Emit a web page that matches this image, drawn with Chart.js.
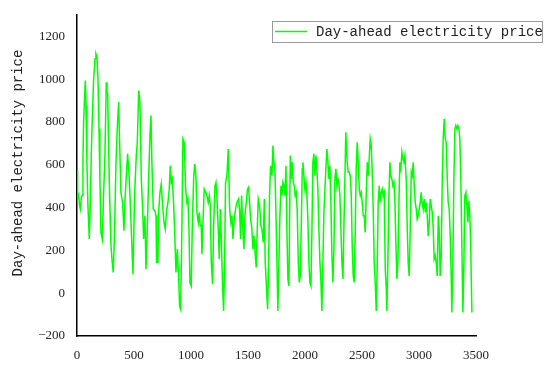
<!DOCTYPE html>
<html>
<head>
<meta charset="utf-8">
<script src="https://cdn.jsdelivr.net/npm/chart.js@4.4.1/dist/chart.umd.min.js"></script>
<style>
  html, body { margin: 0; padding: 0; background: #fff; }
</style>
</head>
<body>
<canvas id="myChart" width="550" height="367"></canvas>
<script>
// values
var seriesLabel = 'Day-ahead electricity price';
var yTitle = 'Day-ahead electricity price';
var xTicks = [0, 500, 1000, 1500, 2000, 2500, 3000, 3500];
var yTicks = [-200, 0, 200, 400, 600, 800, 1000, 1200];

var hours = [
  0, 5, 14, 23, 29, 38, 44, 52, 58, 67, 73, 79, 87, 96, 108, 117, 125, 134, 146, 158,
  166, 175, 184, 193, 201, 210, 222, 233, 245, 257, 263, 269, 277, 286, 298, 309, 318, 330, 342, 353,
  365, 377, 385, 400, 412, 423, 438, 444, 459, 476, 491, 505, 520, 529, 541, 552, 564, 576, 584, 596,
  605, 617, 628, 640, 649, 657, 669, 684, 693, 698, 710, 716, 728, 739, 751, 763, 774, 786, 798, 809,
  818, 827, 836, 847, 856, 868, 880, 891, 900, 909, 920, 929, 941, 953, 964, 973, 982, 991, 1002, 1011,
  1023, 1032, 1043, 1052, 1064, 1073, 1081, 1090, 1096, 1105, 1116, 1128, 1140, 1151, 1160, 1169, 1178, 1189, 1198, 1210,
  1219, 1227, 1239, 1248, 1257, 1265, 1277, 1286, 1295, 1303, 1315, 1327, 1339, 1350, 1359, 1368, 1379, 1391, 1403, 1417,
  1426, 1435, 1444, 1453, 1464, 1473, 1485, 1496, 1505, 1514, 1523, 1534, 1543, 1552, 1564, 1572, 1581, 1590, 1602, 1613,
  1622, 1634, 1643, 1651, 1663, 1672, 1681, 1689, 1698, 1710, 1719, 1727, 1736, 1745, 1754, 1762, 1771, 1780, 1789, 1798,
  1806, 1815, 1824, 1833, 1841, 1850, 1859, 1871, 1879, 1888, 1897, 1906, 1914, 1923, 1932, 1941, 1950, 1958, 1967, 1976,
  1982, 1990, 1999, 2008, 2017, 2026, 2034, 2043, 2052, 2061, 2069, 2078, 2087, 2096, 2104, 2113, 2122, 2131, 2140, 2148,
  2157, 2166, 2175, 2183, 2192, 2201, 2210, 2218, 2227, 2236, 2245, 2254, 2262, 2271, 2280, 2289, 2297, 2306, 2315, 2324,
  2333, 2341, 2350, 2358, 2370, 2379, 2388, 2397, 2406, 2414, 2423, 2432, 2441, 2449, 2458, 2467, 2476, 2485, 2493, 2502,
  2511, 2520, 2528, 2537, 2546, 2555, 2563, 2572, 2581, 2590, 2599, 2607, 2616, 2625, 2634, 2642, 2651, 2660, 2669, 2677,
  2686, 2695, 2704, 2713, 2718, 2727, 2736, 2745, 2753, 2762, 2771, 2780, 2789, 2797, 2806, 2815, 2824, 2832, 2841, 2850,
  2859, 2867, 2876, 2888, 2897, 2905, 2914, 2923, 2932, 2941, 2949, 2958, 2967, 2976, 2984, 2993, 3002, 3011, 3019, 3028,
  3037, 3046, 3055, 3063, 3072, 3081, 3090, 3098, 3107, 3116, 3125, 3133, 3142, 3151, 3160, 3169, 3177, 3186, 3195, 3204,
  3212, 3221, 3230, 3239, 3248, 3256, 3265, 3274, 3283, 3288, 3297, 3306, 3315, 3323, 3332, 3341, 3350, 3358, 3367, 3376,
  3385, 3394, 3402, 3411, 3420, 3429, 3437, 3446, 3452, 3464
];

var prices = [
  573, 440, 456, 409, 393, 448, 456, 612, 799, 924, 994, 877, 612, 409, 253, 424, 643, 815, 1002, 1096,
  1119, 1104, 1002, 768, 534, 284, 253, 456, 643, 986, 940, 932, 690, 456, 222, 144, 97, 300, 612, 768,
  893, 643, 471, 424, 292, 456, 600, 651, 534, 300, 89, 456, 643, 705, 947, 893, 534, 393, 253, 362,
  112, 300, 534, 737, 830, 612, 393, 385, 362, 144, 144, 378, 471, 510, 409, 331, 300, 385, 424, 487,
  596, 518, 534, 424, 300, 97, 206, 81, -59, -75, 300, 721, 705, 487, 424, 440, 300, 50, 34, 300,
  534, 604, 549, 378, 331, 378, 315, 315, 183, 331, 487, 471, 456, 424, 456, 409, 144, 42, 300, 502,
  518, 456, 300, 159, 393, 268, 34, -83, 144, 518, 549, 674, 393, 331, 362, 253, 346, 393, 424, 440,
  393, 253, 456, 315, 206, 362, 424, 487, 495, 424, 346, 300, 206, 268, 175, 120, 300, 440, 409, 315,
  300, 237, 440, 144, 19, -75, 144, 456, 596, 549, 690, 612, 581, 378, 144, -83, 144, 362, 502, 456,
  518, 502, 456, 596, 300, 66, 34, 643, 534, 612, 518, 502, 456, 471, 378, 144, 50, 81, 300, 581,
  612, 549, 487, 518, 456, 331, 144, 50, 34, 300, 612, 651, 549, 643, 581, 487, 300, 144, 50, -83,
  144, 378, 487, 581, 674, 612, 534, 596, 424, 175, 50, 222, 534, 581, 502, 534, 518, 456, 300, 144,
  66, 300, 534, 752, 612, 565, 565, 549, 456, 222, 81, 50, 300, 581, 705, 612, 487, 456, 471, 424,
  362, 362, 284, 456, 612, 549, 627, 721, 690, 565, 378, 144, 50, -83, 144, 424, 502, 424, 471, 487,
  456, 471, 112, 19, -83, 144, 456, 612, 549, 534, 502, 518, 424, 237, 66, 144, 424, 612, 581, 659,
  627, 612, 643, 534, 300, 144, 81, 300, 565, 549, 612, 502, 424, 393, 346, 362, 393, 424, 471, 424,
  393, 440, 378, 424, 362, 268, 331, 440, 409, 378, 300, 159, 175, 144, 81, 362, 300, 81, 175, 534,
  721, 815, 721, 705, 534, 424, 393, 268, 66, -90, 144, 534, 768, 783, 768, 783, 768, 721, 534, 222,
  -90, 144, 456, 471, 409, 331, 432, 362, 260, -90
];

var points = hours.map(function (h, i) { return { x: h, y: prices[i] }; });

var tickFont = { family: '"Liberation Serif", "Times New Roman", serif', size: 13 };
var textFont = '14px "Liberation Mono", "DejaVu Sans Mono", monospace';

function plainTick(value) {
    return value < 0 ? '\u2212' + Math.abs(value) : String(value);
}

// legend box inside the plot and the rotated y title
var overlay = {
    id: 'overlay',
    afterDraw: function (chart) {
        var ctx = chart.ctx;
        var ds = chart.data.datasets[0];
        ctx.save();
        ctx.fillStyle = '#fff';
        ctx.fillRect(272, 21, 271, 21);
        ctx.strokeStyle = '#9a9a9a';
        ctx.lineWidth = 1;
        ctx.strokeRect(272.5, 21.5, 270, 21);
        ctx.strokeStyle = ds.borderColor;
        ctx.lineWidth = 1.5;
        ctx.beginPath();
        ctx.moveTo(275, 31.5);
        ctx.lineTo(307, 31.5);
        ctx.stroke();
        ctx.font = textFont;
        ctx.fillStyle = '#222';
        ctx.textBaseline = 'middle';
        ctx.textAlign = 'left';
        ctx.fillText(ds.label, 316, 32);

        ctx.translate(18, 163);
        ctx.rotate(-Math.PI / 2);
        ctx.textAlign = 'center';
        ctx.fillText(yTitle, 0, 0);
        ctx.restore();
    }
};

var ctx = document.getElementById('myChart').getContext('2d');
var myChart = new Chart(ctx, {
    type: 'line',
    data: {
        datasets: [{
            label: seriesLabel,
            data: points,
            borderColor: '#00ff00',
            borderWidth: 1.5,
            pointRadius: 0,
            tension: 0,
            fill: false
        }]
    },
    options: {
        responsive: false,
        animation: false,
        layout: {
            padding: { left: 0, right: 74, top: 15, bottom: 0 }
        },
        plugins: {
            legend: { display: false },
            tooltip: { enabled: false }
        },
        scales: {
            x: {
                type: 'linear',
                min: xTicks[0],
                max: xTicks[xTicks.length - 1],
                grid: { display: false },
                border: { display: true, color: '#000', width: 1.5 },
                afterBuildTicks: function (scale) {
                    scale.ticks = xTicks.map(function (v) { return { value: v }; });
                },
                afterFit: function (scale) { scale.height = 31; },
                ticks: { font: tickFont, color: '#222', padding: 4, maxRotation: 0, callback: plainTick }
            },
            y: {
                min: -200,
                max: 1300,
                grid: { display: false },
                border: { display: true, color: '#000', width: 1.5 },
                afterBuildTicks: function (scale) {
                    scale.ticks = yTicks.map(function (v) { return { value: v }; });
                },
                afterFit: function (scale) { scale.width = 77; },
                ticks: { font: tickFont, color: '#222', padding: 4, callback: plainTick }
            }
        }
    },
    plugins: [overlay]
});
</script>
</body>
</html>
